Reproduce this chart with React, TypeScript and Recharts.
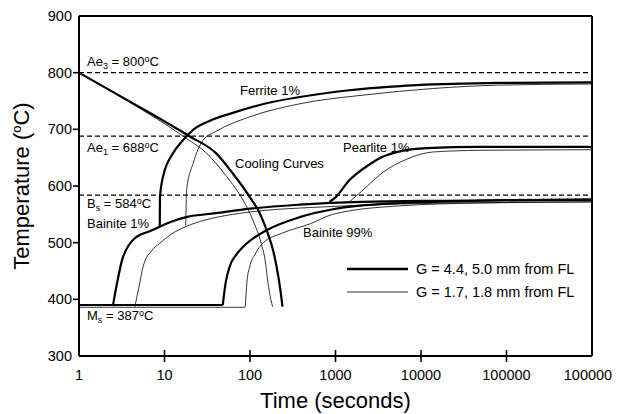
import React from "react";
import { LineChart, Line, XAxis, YAxis, ReferenceLine } from "recharts";

type Pt = [number, number];

// Tick values
const xTicks = [1, 10, 100, 1000, 10000, 100000, 1000000];
const yTicks = [300, 400, 500, 600, 700, 800, 900];

// Equilibrium temperatures
const ae3 = 800;
const ae1 = 688;
const bs = 584;

// Cooling curves [time s, temperature C]
const coolThick: Pt[] = [[1, 800], [5, 740], [10, 714], [20, 687], [40, 658], [63, 622], [100, 580], [130, 552], [160, 518], [185, 488], [205, 457], [225, 420], [240, 387]];
const coolThin: Pt[] = [[1, 800], [5, 738], [10, 710], [18, 684], [31, 658], [53, 617], [83, 575], [108, 540], [135, 499], [150, 470], [162, 430], [175, 400], [184, 387]];

// Ferrite 1%
const ferriteThick: Pt[] = [[8.8, 528], [8.85, 580], [9.6, 616], [12.6, 658], [16.5, 681], [21.6, 699], [35, 716], [63, 729], [156, 746], [380, 757], [1450, 769], [8900, 778], [81000, 782], [1000000, 783]];
const ferriteThin: Pt[] = [[17.7, 530], [18.2, 595], [21.6, 640], [28.3, 681], [40.7, 697], [99, 722], [380, 745], [2300, 761], [13700, 772], [81000, 778], [1000000, 780]];

// Pearlite 1%
const pearliteThick: Pt[] = [[850, 572], [1000, 580], [1450, 610], [2500, 638], [3500, 651], [6000, 662], [11500, 667], [50000, 669], [1000000, 669]];
const pearliteThin: Pt[] = [[1450, 572], [2000, 590], [3500, 623], [7000, 648], [13700, 660], [50000, 663], [1000000, 664]];

// Bainite 1%
const bainite1Thick: Pt[] = [[2.5, 390], [2.8, 430], [3.2, 470], [3.8, 495], [4.5, 508], [6.7, 520], [8.8, 528], [12, 537], [18, 545], [40, 552], [100, 560], [380, 567], [2000, 572], [20000, 574], [1000000, 576]];
const bainite1Thin: Pt[] = [[4.5, 387], [5, 420], [5.6, 457], [7, 485], [8.8, 499], [12, 515], [18.2, 529], [30, 540], [63, 550], [150, 557], [500, 562], [5000, 568], [100000, 571], [1000000, 572]];

// Bainite 99%
const bainite99Thick: Pt[] = [[48, 390], [52, 430], [57.6, 457], [70, 480], [82, 492], [110, 508], [156, 522], [380, 545], [930, 559], [5600, 570], [50000, 574], [1000000, 576]];
const bainite99Thin: Pt[] = [[88, 387], [92, 430], [99, 457], [115, 480], [141, 499], [240, 517], [500, 533], [930, 550], [5600, 565], [50000, 570], [1000000, 572]];

// Martensite start lines
const msThick: Pt[] = [[1, 390], [48, 390]];
const msThin: Pt[] = [[1, 386], [88, 386]];

const thickCurves = [coolThick, ferriteThick, pearliteThick, bainite1Thick, bainite99Thick, msThick];
const thinCurves = [coolThin, ferriteThin, pearliteThin, bainite1Thin, bainite99Thin, msThin];

const FONT = "'Liberation Sans', Arial, Helvetica, sans-serif";

const toRows = (c: Pt[]) => c.map(([t, T]) => ({ t, T }));

const XTick = (props: any) => {
  const { x, y, payload } = props;
  const v = payload.value;
  const edge = v === 1 || v === 1000000;
  return (
    <g>
      {!edge && <line x1={x} x2={x} y1={y - 6} y2={y + 6} stroke="#000" strokeWidth={1.6} />}
      <text x={x} y={y + 24} textAnchor="middle" fontSize={14.5} fontFamily={FONT} fill="#000">
        {v}
      </text>
    </g>
  );
};

const YTick = (props: any) => {
  const { x, y, payload } = props;
  const v = payload.value;
  const edge = v === 300 || v === 900;
  return (
    <g>
      {!edge && <line x1={x - 6} x2={x} y1={y} y2={y} stroke="#000" strokeWidth={1.6} />}
      <text x={x - 7} y={y + 5} textAnchor="end" fontSize={14.5} fontFamily={FONT} fill="#000">
        {v}
      </text>
    </g>
  );
};

const Deg = ({ v }: { v: number }) => (
  <>
    {" = " + v}
    <tspan dy={-4} fontSize={9}>o</tspan>
    <tspan dy={4}>C</tspan>
  </>
);

const Annotations = () => (
  <g fontFamily={FONT} fontSize={13} fill="#000">
    <text x={79} y={58}>
      Ae<tspan dy={3} fontSize={9}>3</tspan>
      <tspan dy={-3}> </tspan>
      <Deg v={800} />
    </text>
    <text x={79} y={144}>
      Ae<tspan dy={3} fontSize={9}>1</tspan>
      <tspan dy={-3}> </tspan>
      <Deg v={688} />
    </text>
    <text x={79} y={200}>
      B<tspan dy={3} fontSize={9}>s</tspan>
      <tspan dy={-3}> </tspan>
      <Deg v={584} />
    </text>
    <text x={79} y={312}>
      M<tspan dy={3} fontSize={9}>s</tspan>
      <tspan dy={-3}> </tspan>
      <Deg v={387} />
    </text>
    <text x={79} y={220}>Bainite 1%</text>
    <text x={232} y={87}>Ferrite 1%</text>
    <text x={227} y={160}>Cooling Curves</text>
    <text x={335} y={144}>Pearlite 1%</text>
    <text x={295} y={229}>Bainite 99%</text>
    <g fontSize={14.5}>
      <line x1={339} x2={400} y1={261} y2={261} stroke="#000" strokeWidth={2.4} />
      <text x={408} y={266}>G = 4.4, 5.0 mm from FL</text>
      <line x1={339} x2={400} y1={284} y2={284} stroke="#000" strokeWidth={0.8} />
      <text x={408} y={289}>G = 1.7, 1.8 mm from FL</text>
    </g>
    <text x={327.5} y={400} textAnchor="middle" fontSize={22}>Time (seconds)</text>
    <text x={21} y={178} textAnchor="middle" fontSize={22} transform="rotate(-90 21 178)">
      Temperature (<tspan dy={-8} fontSize={13}>o</tspan><tspan dy={8}>C)</tspan>
    </text>
  </g>
);

export default function App() {
  return (
    <LineChart width={612} height={406} margin={{ top: 8, right: 28, left: 0, bottom: 0 }}>
      <XAxis
        dataKey="t"
        type="number"
        scale="log"
        domain={[1, 1000000]}
        ticks={xTicks}
        allowDataOverflow
        height={58}
        tickSize={0}
        tickMargin={0}
        tickLine={false}
        tick={<XTick />}
        axisLine={{ stroke: "#000", strokeWidth: 2 }}
        interval={0}
      />
      <YAxis
        type="number"
        domain={[300, 900]}
        ticks={yTicks}
        width={71}
        tickSize={0}
        tickMargin={0}
        tickLine={false}
        tick={<YTick />}
        axisLine={{ stroke: "#000", strokeWidth: 2 }}
        interval={0}
      />
      <ReferenceLine y={900} stroke="#000" strokeWidth={2} />
      <ReferenceLine x={1000000} stroke="#000" strokeWidth={2} />
      <ReferenceLine y={ae3} stroke="#000" strokeWidth={1.3} strokeDasharray="5 3" />
      <ReferenceLine y={ae1} stroke="#000" strokeWidth={1.3} strokeDasharray="5 3" />
      <ReferenceLine y={bs} stroke="#000" strokeWidth={1.3} strokeDasharray="5 3" />
      {thinCurves.map((c, i) => (
        <Line
          key={"thin" + i}
          data={toRows(c)}
          dataKey="T"
          type="monotone"
          dot={false}
          activeDot={false}
          stroke="#000"
          strokeWidth={0.8}
          isAnimationActive={false}
        />
      ))}
      {thickCurves.map((c, i) => (
        <Line
          key={"thick" + i}
          data={toRows(c)}
          dataKey="T"
          type="monotone"
          dot={false}
          activeDot={false}
          stroke="#000"
          strokeWidth={2.2}
          isAnimationActive={false}
        />
      ))}
      <Annotations />
    </LineChart>
  );
}
